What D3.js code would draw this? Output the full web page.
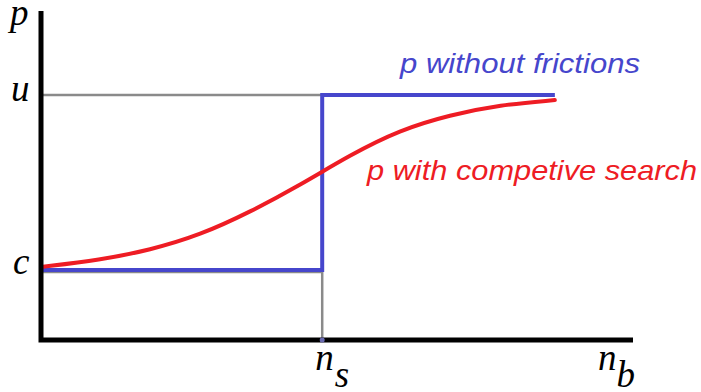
<!DOCTYPE html>
<html>
<head>
<meta charset="utf-8">
<script src="https://cdn.jsdelivr.net/npm/d3@7"></script>
<style>
  body { margin: 0; background: #fff; }
  .sym { font-family: "Liberation Serif", "DejaVu Serif", serif; font-style: italic; }
  .lbl { font-family: "Liberation Sans", Arial, sans-serif; font-style: italic; }
</style>
</head>
<body>
<div id="container"></div>
<script>
// levels
const cLevel = 0.4;
const uLevel = 1.4;
const nsPos = 4.75;
const nbMax = 10;
const pMax = 1.88;

// blue: p without frictions (step at ns)
const stepX = [0, nsPos, nsPos, 8.68];
const stepY = [cLevel, cLevel, uLevel, uLevel];

// red: p with competitive search
const searchX = [0, 1.0, 1.84, 2.69, 3.53, 4.38, 5.22, 6.06, 6.91, 7.75, 8.68];
const searchY = [0.417, 0.457, 0.514, 0.6, 0.731, 0.886, 1.057, 1.2, 1.286, 1.343, 1.371];

const width = 701;
const height = 392;
const blue = "#4646cc";
const red = "#ee1c24";
const grey = "#8a8a8a";

const svg = d3.select("#container")
	.append("svg")
		.attr("width", width)
		.attr("height", height);

const x = d3.scaleLinear().domain([0, nbMax]).range([41, 633]);
const y = d3.scaleLinear().domain([0, pMax]).range([340, 11]);

// grey guide lines
svg.append("line")
	.attr("x1", x(0)).attr("x2", x(nsPos))
	.attr("y1", y(uLevel)).attr("y2", y(uLevel))
	.style("stroke", grey).style("stroke-width", 2.5);
svg.append("line")
	.attr("x1", x(0)).attr("x2", x(nsPos))
	.attr("y1", y(cLevel) + 2).attr("y2", y(cLevel) + 2)
	.style("stroke", grey).style("stroke-width", 2.5);
svg.append("line")
	.attr("x1", x(nsPos)).attr("x2", x(nsPos))
	.attr("y1", y(cLevel)).attr("y2", y(0))
	.style("stroke", grey).style("stroke-width", 2.5);

const line = d3.line()
	.x((d) => x(d[0]))
	.y((d) => y(d[1]));

// blue step
svg.append("path")
	.attr("d", line(d3.zip(stepX, stepY)))
	.style("fill", "none")
	.style("stroke", blue)
	.style("stroke-width", 4);

// red curve
svg.append("path")
	.attr("d", line.curve(d3.curveBasis)(d3.zip(searchX, searchY)))
	.style("fill", "none")
	.style("stroke", red)
	.style("stroke-width", 4)
	.style("stroke-linecap", "round");

// axes
svg.append("path")
	.attr("d", `M${x(0)},${y(pMax)}V${y(0)}H${x(nbMax)}`)
	.style("fill", "none")
	.style("stroke", "#000")
	.style("stroke-width", 5);

// small dot on axis at ns
svg.append("circle")
	.attr("cx", x(nsPos)).attr("cy", y(0)).attr("r", 2.5)
	.style("fill", "#6a6ab0");

// symbol labels
const sym = svg.append("g").attr("class", "sym").style("font-size", "37px").style("fill", "#000");
sym.append("text").attr("x", 10).attr("y", 25).text("p");
sym.append("text").attr("x", 11).attr("y", y(uLevel) + 6).text("u");
sym.append("text").attr("x", 13).attr("y", y(cLevel) + 4).text("c");

const ns = sym.append("text").attr("x", x(nsPos) - 7).attr("y", 370);
ns.append("tspan").text("n");
ns.append("tspan").attr("dy", 17).attr("dx", 1).text("s");

const nb = sym.append("text").attr("x", 598).attr("y", 370);
nb.append("tspan").text("n");
nb.append("tspan").attr("dy", 17).attr("dx", 0).text("b");

// series labels
svg.append("text").attr("class", "lbl")
	.attr("x", 400).attr("y", 73)
	.attr("textLength", 240).attr("lengthAdjust", "spacingAndGlyphs")
	.style("font-size", "28px").style("fill", blue)
	.text("p without frictions");
svg.append("text").attr("class", "lbl")
	.attr("x", 367).attr("y", 180)
	.attr("textLength", 330).attr("lengthAdjust", "spacingAndGlyphs")
	.style("font-size", "28px").style("fill", red)
	.text("p with competive search");
</script>
</body>
</html>
